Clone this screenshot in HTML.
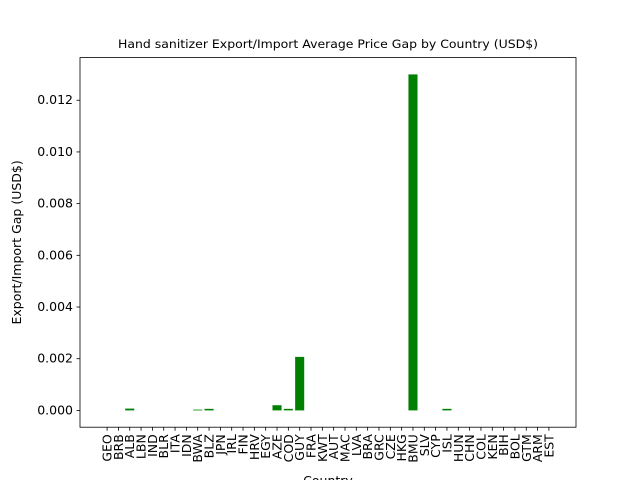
<!DOCTYPE html>
<html><head><meta charset="utf-8"><style>
body{margin:0;background:#fff;font-family:"Liberation Sans","DejaVu Sans",sans-serif}
</style></head><body>
<svg width="640" height="480" xmlns="http://www.w3.org/2000/svg" font-family="DejaVu Sans, Liberation Sans, sans-serif">
<rect width="640" height="480" fill="#fff"/>
<g id="plot"></g>
</svg>
<script>
const categories=["GEO","BRB","ALB","LBN","IND","BLR","ITA","IDN","BWA","BLZ","JPN","IRL","FIN","HRV","EGY","AZE","COD","GUY","FRA","KWT","AUT","MAC","LVA","BRA","GRC","CZE","HKG","BMU","SLV","CYP","ISL","HUN","CHN","COL","KEN","BIH","BOL","GTM","ARM","EST"];
const values=[0,0,0.00007,0,0,0,0,0,0.00003,0.00006,0,0,0,0,0,0.0002,0.00006,0.00207,0,0,0,0,0,0,0,0,0,0.013,0,0,0.00006,0,0,0,0,0,0,0,0,0];
const yTicks=[0,0.002,0.004,0.006,0.008,0.010,0.012];
const yTickLabels=["0.000","0.002","0.004","0.006","0.008","0.010","0.012"];
const L=80,R=576,T=57.6,B=427.2;
const n=categories.length;
const xmin=-0.4-0.05*(n-0.2),xmax=n-1+0.4+0.05*(n-0.2);
const maxV=Math.max(...values);
const ymin=-0.05*maxV,ymax=maxV*1.05;
const X=v=>L+(v-xmin)/(xmax-xmin)*(R-L);
const Y=v=>B-(v-ymin)/(ymax-ymin)*(B-T);
const g=document.getElementById('plot');
const NS="http://www.w3.org/2000/svg";
function mk(t,a,txt){const e=document.createElementNS(NS,t);for(const k in a)e.setAttribute(k,a[k]);if(txt!==undefined)e.textContent=txt;g.appendChild(e);return e;}
const bw=(X(0.8)-X(0));
values.forEach((v,i)=>{
 const r=mk('rect',{x:X(i-0.4),y:Math.min(Y(v),Y(0)),width:bw,height:Math.abs(Y(0)-Y(v)),fill:'#008000'});
 
 
});
const fr=mk('rect',{x:L,y:T,width:R-L,height:B-T,fill:'none',stroke:'#000','stroke-width':0.8});


yTicks.forEach((v,i)=>{
 const y=Y(v);
 const tl=mk('line',{x1:L-3.5,x2:L,y1:y,y2:y,stroke:'#000','stroke-width':0.8});
 
 
 const t=mk('text',{x:L-7,y:y+4,'text-anchor':'end','font-size':'12.5'},yTickLabels[i]);
 
 
});
categories.forEach((c,i)=>{
 const x=X(i);
 const tl=mk('line',{x1:x,x2:x,y1:B,y2:B+3.5,stroke:'#000','stroke-width':0.8});
 
 
 const t=mk('text',{x:x+4.5,y:B+7,'text-anchor':'end','font-size':'12.5',transform:`rotate(-90 ${x+4.5} ${B+7})`},c);
 
 
});
const tt=mk('text',{x:(L+R)/2,y:48,'text-anchor':'middle','font-size':'11.5',textLength:'420',lengthAdjust:'spacingAndGlyphs'},'Hand sanitizer Export/Import Average Price Gap by Country (USD$)');


const yt=mk('text',{x:21,y:(T+B)/2,'text-anchor':'middle','font-size':'12.5',transform:`rotate(-90 21 ${(T+B)/2})`},'Export/Import Gap (USD$)');


const xt=mk('text',{x:(L+R)/2,y:485,'text-anchor':'middle','font-size':'12.5'},'Country');


</script>
</body></html>
